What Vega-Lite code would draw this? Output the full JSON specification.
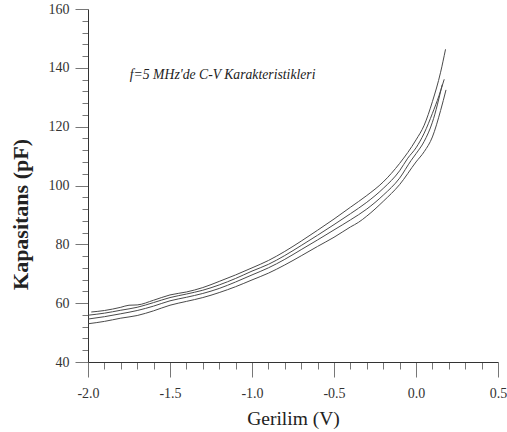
{
  "$schema": "https://vega.github.io/schema/vega-lite/v6.json",
  "autosize": "none",
  "width": 410,
  "height": 353,
  "padding": {"left": 88, "top": 9, "right": 9, "bottom": 70},
  "background": "white",
  "config": {"view": {"stroke": null}, "axis": {"grid": false}},
  "datasets": {
    "curves": [
      {"s": "A", "v": -1.98, "c": 57.0}, {"s": "A", "v": -1.9, "c": 57.5}, {"s": "A", "v": -1.8, "c": 58.6}, {"s": "A", "v": -1.75, "c": 59.3}, {"s": "A", "v": -1.7, "c": 59.4}, {"s": "A", "v": -1.6, "c": 61.0}, {"s": "A", "v": -1.5, "c": 62.8}, {"s": "A", "v": -1.4, "c": 63.8}, {"s": "A", "v": -1.3, "c": 65.3}, {"s": "A", "v": -1.25, "c": 66.3}, {"s": "A", "v": -1.2, "c": 67.4}, {"s": "A", "v": -1.1, "c": 69.6}, {"s": "A", "v": -1.0, "c": 72.0}, {"s": "A", "v": -0.9, "c": 74.5}, {"s": "A", "v": -0.8, "c": 77.6}, {"s": "A", "v": -0.7, "c": 81.1}, {"s": "A", "v": -0.6, "c": 84.8}, {"s": "A", "v": -0.5, "c": 88.6}, {"s": "A", "v": -0.4, "c": 92.6}, {"s": "A", "v": -0.3, "c": 96.6}, {"s": "A", "v": -0.2, "c": 101.2}, {"s": "A", "v": -0.1, "c": 107.5}, {"s": "A", "v": 0.0, "c": 115.5}, {"s": "A", "v": 0.05, "c": 120.5}, {"s": "A", "v": 0.1, "c": 128.5}, {"s": "A", "v": 0.15, "c": 138.5}, {"s": "A", "v": 0.18, "c": 146.3},
      {"s": "B", "v": -2.0, "c": 55.9}, {"s": "B", "v": -1.9, "c": 56.6}, {"s": "B", "v": -1.8, "c": 57.6}, {"s": "B", "v": -1.7, "c": 58.6}, {"s": "B", "v": -1.6, "c": 60.2}, {"s": "B", "v": -1.5, "c": 61.9}, {"s": "B", "v": -1.4, "c": 63.1}, {"s": "B", "v": -1.3, "c": 64.4}, {"s": "B", "v": -1.2, "c": 66.2}, {"s": "B", "v": -1.1, "c": 68.4}, {"s": "B", "v": -1.0, "c": 70.9}, {"s": "B", "v": -0.9, "c": 73.2}, {"s": "B", "v": -0.8, "c": 76.2}, {"s": "B", "v": -0.7, "c": 79.6}, {"s": "B", "v": -0.6, "c": 83.1}, {"s": "B", "v": -0.5, "c": 86.7}, {"s": "B", "v": -0.4, "c": 90.4}, {"s": "B", "v": -0.3, "c": 94.3}, {"s": "B", "v": -0.2, "c": 99.0}, {"s": "B", "v": -0.1, "c": 105.0}, {"s": "B", "v": -0.05, "c": 109.3}, {"s": "B", "v": 0.0, "c": 112.8}, {"s": "B", "v": 0.05, "c": 117.8}, {"s": "B", "v": 0.1, "c": 124.5}, {"s": "B", "v": 0.14, "c": 130.5}, {"s": "B", "v": 0.172, "c": 136.1},
      {"s": "C", "v": -2.0, "c": 54.6}, {"s": "C", "v": -1.9, "c": 55.4}, {"s": "C", "v": -1.8, "c": 56.4}, {"s": "C", "v": -1.7, "c": 57.5}, {"s": "C", "v": -1.6, "c": 59.0}, {"s": "C", "v": -1.5, "c": 60.8}, {"s": "C", "v": -1.4, "c": 62.0}, {"s": "C", "v": -1.3, "c": 63.3}, {"s": "C", "v": -1.2, "c": 65.0}, {"s": "C", "v": -1.1, "c": 67.2}, {"s": "C", "v": -1.0, "c": 69.6}, {"s": "C", "v": -0.9, "c": 72.0}, {"s": "C", "v": -0.8, "c": 74.9}, {"s": "C", "v": -0.7, "c": 78.2}, {"s": "C", "v": -0.6, "c": 81.5}, {"s": "C", "v": -0.5, "c": 84.9}, {"s": "C", "v": -0.4, "c": 88.3}, {"s": "C", "v": -0.3, "c": 92.0}, {"s": "C", "v": -0.2, "c": 96.7}, {"s": "C", "v": -0.1, "c": 102.5}, {"s": "C", "v": -0.03, "c": 108.5}, {"s": "C", "v": 0.0, "c": 110.8}, {"s": "C", "v": 0.05, "c": 115.0}, {"s": "C", "v": 0.1, "c": 121.5}, {"s": "C", "v": 0.16, "c": 134.3},
      {"s": "D", "v": -2.0, "c": 53.0}, {"s": "D", "v": -1.9, "c": 53.8}, {"s": "D", "v": -1.8, "c": 54.9}, {"s": "D", "v": -1.7, "c": 55.8}, {"s": "D", "v": -1.6, "c": 57.4}, {"s": "D", "v": -1.5, "c": 59.3}, {"s": "D", "v": -1.4, "c": 60.6}, {"s": "D", "v": -1.3, "c": 61.9}, {"s": "D", "v": -1.2, "c": 63.6}, {"s": "D", "v": -1.1, "c": 65.6}, {"s": "D", "v": -1.0, "c": 67.9}, {"s": "D", "v": -0.9, "c": 70.2}, {"s": "D", "v": -0.8, "c": 73.0}, {"s": "D", "v": -0.7, "c": 76.1}, {"s": "D", "v": -0.6, "c": 79.3}, {"s": "D", "v": -0.5, "c": 82.4}, {"s": "D", "v": -0.4, "c": 85.9}, {"s": "D", "v": -0.35, "c": 87.5}, {"s": "D", "v": -0.3, "c": 89.6}, {"s": "D", "v": -0.2, "c": 94.6}, {"s": "D", "v": -0.1, "c": 100.3}, {"s": "D", "v": 0.0, "c": 108.0}, {"s": "D", "v": 0.05, "c": 111.5}, {"s": "D", "v": 0.1, "c": 116.5}, {"s": "D", "v": 0.15, "c": 125.5}, {"s": "D", "v": 0.183, "c": 132.5}
    ]
  },
  "layer": [
    {
      "data": {"name": "curves"},
      "mark": {"type": "line", "stroke": "#4a4a4a", "strokeWidth": 1, "interpolate": "monotone"},
      "encoding": {
        "x": {
          "field": "v", "type": "quantitative",
          "scale": {"domain": [-2, 0.5], "nice": false, "zero": false},
          "axis": {
            "orient": "bottom",
            "values": [-2, -1.9, -1.8, -1.7, -1.6, -1.5, -1.4, -1.3, -1.2, -1.1, -1, -0.9, -0.8, -0.7, -0.6, -0.5, -0.4, -0.3, -0.2, -0.1, 0, 0.1, 0.2, 0.3, 0.4, 0.5],
            "tickCount": 200,
            "labelExpr": "abs(datum.value*2 - round(datum.value*2)) < 0.001 ? ((datum.value < -0.001 ? '-' : '') + format(abs(datum.value), '.1f')) : ''",
            "tickSize": {"condition": {"test": "abs(datum.value*2 - round(datum.value*2)) < 0.001", "value": 15}, "value": 7},
            "tickColor": "#777", "tickWidth": 1,
            "domainColor": "#333", "domainWidth": 1,
            "labelFont": "Liberation Serif", "labelFontSize": 14, "labelColor": "#333", "labelPadding": 9,
            "labelOverlap": false, "labelBound": false, "labelFlush": false,
            "title": "Gerilim (V)", "titleFont": "Liberation Serif", "titleFontSize": 19.5, "titleFontWeight": "normal", "titleColor": "#222", "titlePadding": 9
          }
        },
        "y": {
          "field": "c", "type": "quantitative",
          "scale": {"domain": [40, 160], "nice": false, "zero": false},
          "axis": {
            "orient": "left",
            "values": [40, 44, 48, 52, 56, 60, 64, 68, 72, 76, 80, 84, 88, 92, 96, 100, 104, 108, 112, 116, 120, 124, 128, 132, 136, 140, 144, 148, 152, 156, 160],
            "tickCount": 200,
            "labelExpr": "datum.value % 20 == 0 ? format(datum.value, 'd') : ''",
            "tickSize": {"condition": {"test": "datum.value % 20 == 0", "value": 13}, "value": 6},
            "tickColor": "#777", "tickWidth": 1,
            "domainColor": "#333", "domainWidth": 1,
            "labelFont": "Liberation Serif", "labelFontSize": 14, "labelColor": "#333", "labelPadding": 6,
            "labelOverlap": false, "labelBound": false, "labelFlush": false,
            "title": "Kapasitans (pF)", "titleFont": "Liberation Serif", "titleFontSize": 22, "titleFontWeight": "bold", "titleColor": "#222",
            "titleX": -68, "titleY": 205, "titleBaseline": "middle", "titleAngle": -90
          }
        },
        "detail": {"field": "s", "type": "nominal"}
      }
    },
    {
      "data": {"values": [{"t": "f=5 MHz'de C-V Karakteristikleri"}]},
      "mark": {"type": "text", "font": "Liberation Serif", "fontSize": 13.7, "fontStyle": "italic", "align": "left", "baseline": "middle", "color": "#222"},
      "encoding": {
        "text": {"field": "t", "type": "nominal"},
        "x": {"datum": -1.745, "type": "quantitative"},
        "y": {"datum": 137.6, "type": "quantitative"}
      }
    }
  ]
}
